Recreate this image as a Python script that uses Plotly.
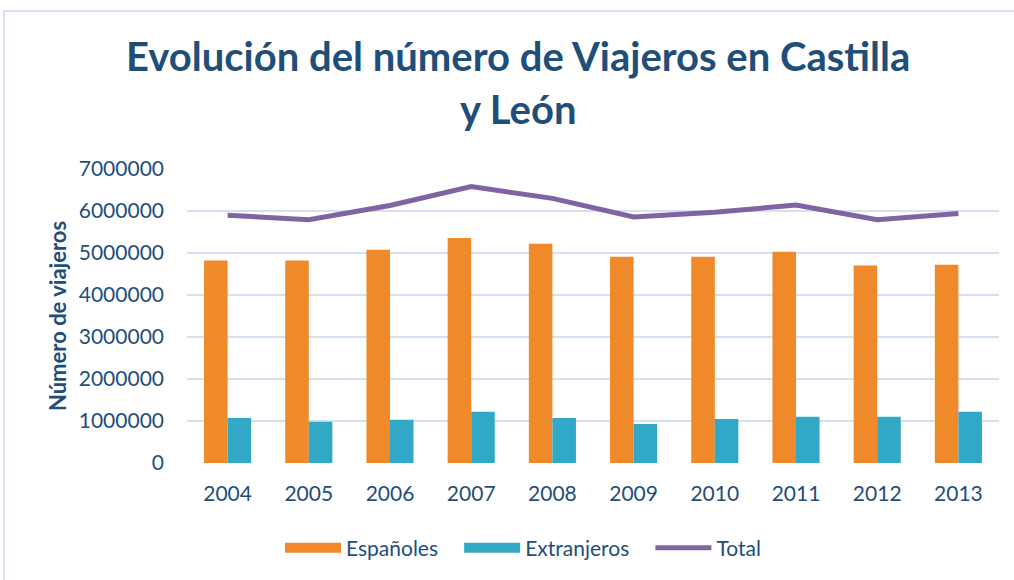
import plotly.graph_objects as go

years = ["2004", "2005", "2006", "2007", "2008", "2009", "2010", "2011", "2012", "2013"]
espanoles = [4820000, 4820000, 5080000, 5360000, 5220000, 4910000, 4910000, 5030000, 4700000, 4720000]
extranjeros = [1070000, 980000, 1030000, 1220000, 1070000, 930000, 1050000, 1100000, 1100000, 1220000]
total = [5900000, 5790000, 6130000, 6580000, 6300000, 5860000, 5970000, 6140000, 5790000, 5940000]
y_ticks = [0, 1000000, 2000000, 3000000, 4000000, 5000000, 6000000, 7000000]

W, H = 1014, 580
ML, MR, MT, MB = 187, 15, 169, 117
PW, PH = W - ML - MR, H - MT - MB

def px_x(p):
    return (p - ML) / PW

def px_y(p):
    return (H - MB - p) / PH

TXT = "#1F4E79"
FONT = "Lato"
ORANGE = "#F0892A"
BLUE = "#32A8C7"
PURPLE = "#8064A2"
PAD = "&nbsp;&nbsp;&nbsp;"

fig = go.Figure()
fig.add_trace(go.Bar(x=years, y=espanoles, name="Españoles", showlegend=False,
                     marker=dict(color=ORANGE, line=dict(width=0))))
fig.add_trace(go.Bar(x=years, y=extranjeros, name="Extranjeros", showlegend=False,
                     marker=dict(color=BLUE, line=dict(width=0))))
fig.add_trace(go.Scatter(x=years, y=total, name="Total", mode="lines", showlegend=False,
                         line=dict(color=PURPLE, width=5)))
# legend entries (wide swatches like the original)
fig.add_trace(go.Scatter(x=[years[0]], y=[None], name="Españoles" + PAD, mode="lines",
                         line=dict(color=ORANGE, width=15)))
fig.add_trace(go.Scatter(x=[years[0]], y=[None], name="Extranjeros" + PAD, mode="lines",
                         line=dict(color=BLUE, width=15)))
fig.add_trace(go.Scatter(x=[years[0]], y=[None], name="Total", mode="lines",
                         line=dict(color=PURPLE, width=5)))

fig.update_layout(
    width=W, height=H,
    margin=dict(l=ML, r=MR, t=MT, b=MB),
    paper_bgcolor="white", plot_bgcolor="white",
    barmode="group", bargap=0.42, bargroupgap=0,
    font=dict(family=FONT, color=TXT, size=21),
    showlegend=True,
    legend=dict(orientation="h", x=px_x(523), xanchor="center", y=px_y(548), yanchor="middle",
                font=dict(size=21, color=TXT), traceorder="normal", itemwidth=56),
    xaxis=dict(showgrid=False, showline=False, ticks="", tickfont=dict(size=21, color=TXT),
               ticklabelstandoff=16),
    yaxis=dict(range=[0, 7000000], tickvals=y_ticks, ticktext=[str(v) for v in y_ticks],
               showgrid=True, gridcolor="#D5E0F0", gridwidth=1.5, zeroline=False,
               showline=False, tickfont=dict(size=21, color=TXT), ticklabelstandoff=22,
               title=dict(text="<b>Número de viajeros</b>", font=dict(size=22, color=TXT),
                          standoff=6)),
    annotations=[
        dict(text="<b>Evolución del número de Viajeros en Castilla</b>", xref="paper", yref="paper",
             x=px_x(518), y=px_y(56), xanchor="center", yanchor="middle", showarrow=False,
             font=dict(size=40, color=TXT, family=FONT)),
        dict(text="<b>y León</b>", xref="paper", yref="paper",
             x=px_x(518), y=px_y(109), xanchor="center", yanchor="middle", showarrow=False,
             font=dict(size=40, color=TXT, family=FONT)),
    ],
    shapes=[
        dict(type="rect", xref="paper", yref="paper", x0=px_x(4), x1=px_x(1030),
             y0=px_y(600), y1=px_y(11), line=dict(color="#D6E2F3", width=2), layer="below"),
    ],
)

fig.write_html("out.html", config={"displayModeBar": False},
               post_script="document.body.style.margin='0';")
